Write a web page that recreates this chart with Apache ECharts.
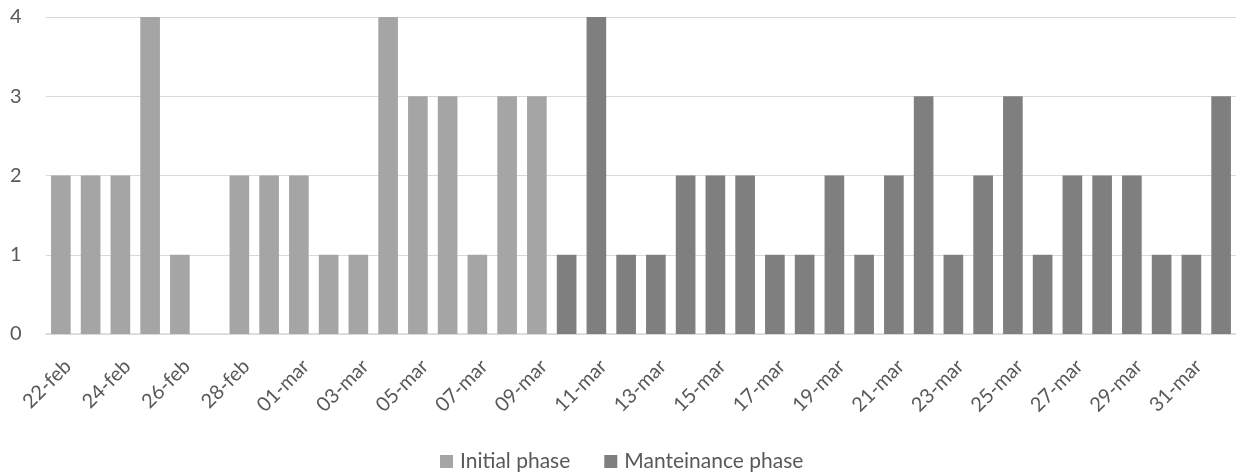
<!DOCTYPE html>
<html>
<head>
<meta charset="utf-8">
<script src="https://cdn.jsdelivr.net/npm/echarts@6/dist/echarts.min.js"></script>
<style>
  html, body { margin: 0; padding: 0; background: #fff; }
  #chart { width: 1236px; height: 475px; }
</style>
</head>
<body>
<div id="chart"></div>
<script>
// Daily counts, 22 Feb to 1 Apr
const categories = [
  '22-feb','23-feb','24-feb','25-feb','26-feb','27-feb','28-feb','29-feb',
  '01-mar','02-mar','03-mar','04-mar','05-mar','06-mar','07-mar','08-mar','09-mar',
  '10-mar','11-mar','12-mar','13-mar','14-mar','15-mar','16-mar','17-mar','18-mar',
  '19-mar','20-mar','21-mar','22-mar','23-mar','24-mar','25-mar','26-mar','27-mar',
  '28-mar','29-mar','30-mar','31-mar','01-apr'
];
const initialPhase = [
  2, 2, 2, 4, 1, 0, 2, 2,
  2, 1, 1, 4, 3, 3, 1, 3, 3,
  null, null, null, null, null, null, null, null, null,
  null, null, null, null, null, null, null, null, null,
  null, null, null, null, null
];
const maintenancePhase = [
  null, null, null, null, null, null, null, null,
  null, null, null, null, null, null, null, null, null,
  1, 4, 1, 1, 2, 2, 2, 1, 1,
  2, 1, 2, 3, 1, 2, 3, 1, 2,
  2, 2, 1, 1, 3
];
const yTicks = [0, 1, 2, 3, 4];

const FONT = 'Lato, "Open Sans", sans-serif';
const TEXT = '#595959';

const chart = echarts.init(document.getElementById('chart'), null, { renderer: 'canvas' });
chart.setOption({
  animation: false,
  textStyle: { fontFamily: FONT },
  grid: { left: 46, right: 0, top: 17, bottom: 141, containLabel: false },
  legend: {
    top: 446,
    left: 435,
    itemWidth: 13,
    itemHeight: 13,
    itemGap: 34,
    icon: 'rect',
    textStyle: { fontFamily: FONT, fontSize: 21, color: TEXT, padding: [0, 0, 0, 2] },
    data: ['Initial phase', 'Manteinance phase']
  },
  xAxis: {
    type: 'category',
    data: categories,
    axisLine: { lineStyle: { color: '#D9D9D9', width: 1.5 } },
    axisTick: { show: false },
    axisLabel: {
      interval: 1,
      rotate: 45,
      margin: 22,
      align: 'right',
      verticalAlign: 'top',
      fontFamily: FONT,
      fontSize: 20,
      color: TEXT
    }
  },
  yAxis: {
    type: 'value',
    min: yTicks[0],
    max: yTicks[yTicks.length - 1],
    interval: 1,
    axisLine: { show: false },
    axisTick: { show: false },
    splitLine: { lineStyle: { color: '#D9D9D9', width: 1.2 } },
    axisLabel: {
      margin: 36,
      fontFamily: FONT,
      fontSize: 20,
      color: TEXT,
      align: 'left'
    }
  },
  series: [
    {
      name: 'Initial phase',
      type: 'bar',
      stack: 'phase',
      data: initialPhase,
      barCategoryGap: '34%',
      itemStyle: { color: '#A5A5A5' }
    },
    {
      name: 'Manteinance phase',
      type: 'bar',
      stack: 'phase',
      data: maintenancePhase,
      barCategoryGap: '34%',
      itemStyle: { color: '#7F7F7F' }
    }
  ]
});
</script>
</body>
</html>
